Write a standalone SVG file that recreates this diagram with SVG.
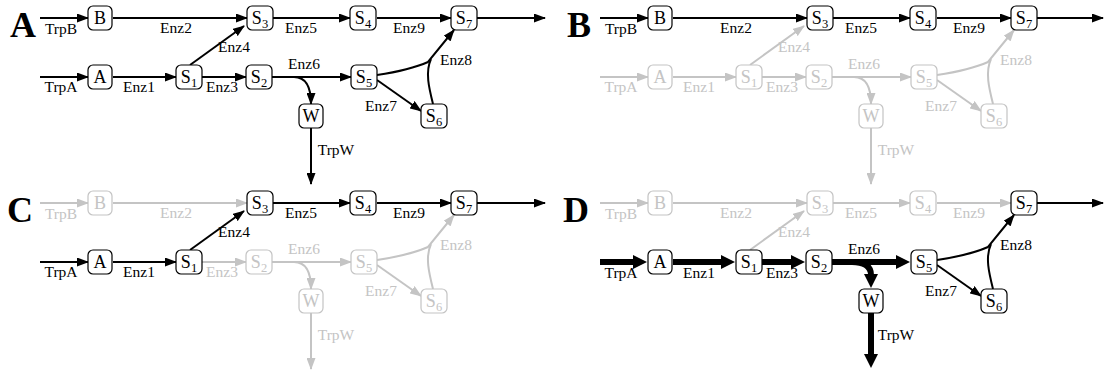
<svg xmlns="http://www.w3.org/2000/svg" width="1104" height="373" viewBox="0 0 1104 373">
<style>
text{font-family:"Liberation Serif","Times New Roman",serif}
.pl{font-size:36px;font-weight:bold;fill:#000}
.nk rect{fill:#fff;stroke:#000;stroke-width:1.2}
.ng rect{fill:#fff;stroke:#c4c4c4;stroke-width:1.2}
.nk text{fill:#000}
.ng text{fill:#c4c4c4}
.nt{font-size:18px;text-anchor:middle}
.sb{font-size:12.5px}
.lb{font-size:15.5px;text-anchor:middle}
.lk{fill:#000}
.lg{fill:#c4c4c4}
.ek{stroke:#000;stroke-width:2;fill:none;marker-end:url(#ak)}
.eg{stroke:#c4c4c4;stroke-width:2;fill:none;marker-end:url(#ag)}
.et{stroke:#000;stroke-width:6;fill:none;marker-end:url(#at)}
.nk2{stroke:#000;stroke-width:2;fill:none}
.ng2{stroke:#c4c4c4;stroke-width:2;fill:none}
</style>
<defs>
<marker id="ak" markerUnits="userSpaceOnUse" markerWidth="12" markerHeight="9" refX="11" refY="4.5" orient="auto"><path d="M0,0 L12,4.5 L0,9 z" fill="#000"/></marker>
<marker id="ag" markerUnits="userSpaceOnUse" markerWidth="12" markerHeight="9" refX="11" refY="4.5" orient="auto"><path d="M0,0 L12,4.5 L0,9 z" fill="#c4c4c4"/></marker>
<marker id="at" markerUnits="userSpaceOnUse" markerWidth="14" markerHeight="14" refX="1" refY="7" orient="auto"><path d="M0,0 L14,7 L0,14 z" fill="#000"/></marker>
</defs>

<text class="pl" x="10" y="37">A</text>
<text class="pl" x="567" y="37">B</text>
<text class="pl" x="7" y="222">C</text>
<text class="pl" x="563" y="222">D</text>

<!-- Panel A -->
<g id="panelA">
<g id="A-connectors">
<path class="ek" d="M40,18 H88"/><text class="lb lk" x="61" y="34">TrpB</text>
<path class="ek" d="M113,18 H247"/><text class="lb lk" x="176" y="33">Enz2</text>
<path class="ek" d="M190,65 L244,26"/><text class="lb lk" x="234" y="52">Enz4</text>
<path class="ek" d="M273,18 H350"/><text class="lb lk" x="301" y="33">Enz5</text>
<path class="ek" d="M377,18 H451"/><text class="lb lk" x="409" y="33">Enz9</text>
<path class="ek" d="M477,18 H545"/>
<path class="ek" d="M40,77 H88"/><text class="lb lk" x="61" y="92">TrpA</text>
<path class="ek" d="M113,77 H176"/><text class="lb lk" x="139" y="92">Enz1</text>
<path class="ek" d="M202,77 H246"/><text class="lb lk" x="222" y="92">Enz3</text>
<path class="ek" d="M272,77 H351"/><text class="lb lk" x="304" y="69">Enz6</text>
<path class="ek" d="M294,77 Q311,77 311,104"/>
<path class="ek" d="M311,128 V184"/><text class="lb lk" x="336" y="155">TrpW</text>
<path class="ek" d="M377,80 L421,111"/><text class="lb lk" x="381" y="111">Enz7</text>
<path class="ek" d="M377,75 Q410,70 428,62 L454,30"/>
<path class="nk2" d="M433,104 C429,88 425,72 431,59"/><text class="lb lk" x="456" y="65">Enz8</text>
</g>
<g id="A-B" class="nk"><rect x="88" y="6" width="24" height="24" rx="5"/><text class="nt" x="100" y="24">B</text></g>
<g id="A-A" class="nk"><rect x="88" y="65" width="24" height="24" rx="5"/><text class="nt" x="100" y="83">A</text></g>
<g id="A-S1" class="nk"><rect x="176" y="65" width="26" height="24" rx="5"/><text class="nt" x="189" y="83">S<tspan class="sb" dy="4">1</tspan></text></g>
<g id="A-S2" class="nk"><rect x="246" y="65" width="26" height="24" rx="5"/><text class="nt" x="259" y="83">S<tspan class="sb" dy="4">2</tspan></text></g>
<g id="A-S3" class="nk"><rect x="247" y="6" width="26" height="24" rx="5"/><text class="nt" x="260" y="24">S<tspan class="sb" dy="4">3</tspan></text></g>
<g id="A-S4" class="nk"><rect x="350" y="6" width="26" height="24" rx="5"/><text class="nt" x="363" y="24">S<tspan class="sb" dy="4">4</tspan></text></g>
<g id="A-S5" class="nk"><rect x="351" y="65" width="26" height="24" rx="5"/><text class="nt" x="364" y="83">S<tspan class="sb" dy="4">5</tspan></text></g>
<g id="A-S6" class="nk"><rect x="421" y="104" width="26" height="24" rx="5"/><text class="nt" x="434" y="122">S<tspan class="sb" dy="4">6</tspan></text></g>
<g id="A-S7" class="nk"><rect x="451" y="6" width="26" height="24" rx="5"/><text class="nt" x="464" y="24">S<tspan class="sb" dy="4">7</tspan></text></g>
<g id="A-W" class="nk"><rect x="299" y="104" width="24" height="24" rx="5"/><text class="nt" x="311" y="122">W</text></g>
</g>

<!-- Panel B -->
<g id="panelB" transform="translate(560,0)">
<g id="B-connectors">
<path class="ek" d="M40,18 H88"/><text class="lb lk" x="61" y="34">TrpB</text>
<path class="ek" d="M113,18 H247"/><text class="lb lk" x="176" y="33">Enz2</text>
<path class="eg" d="M190,65 L244,26"/><text class="lb lg" x="234" y="52">Enz4</text>
<path class="ek" d="M273,18 H350"/><text class="lb lk" x="301" y="33">Enz5</text>
<path class="ek" d="M377,18 H451"/><text class="lb lk" x="409" y="33">Enz9</text>
<path class="ek" d="M477,18 H543"/>
<path class="eg" d="M40,77 H88"/><text class="lb lg" x="61" y="92">TrpA</text>
<path class="eg" d="M113,77 H176"/><text class="lb lg" x="139" y="92">Enz1</text>
<path class="eg" d="M202,77 H246"/><text class="lb lg" x="222" y="92">Enz3</text>
<path class="eg" d="M272,77 H351"/><text class="lb lg" x="304" y="69">Enz6</text>
<path class="eg" d="M294,77 Q311,77 311,104"/>
<path class="eg" d="M311,128 V184"/><text class="lb lg" x="336" y="155">TrpW</text>
<path class="eg" d="M377,80 L421,111"/><text class="lb lg" x="381" y="111">Enz7</text>
<path class="eg" d="M377,75 Q410,70 428,62 L454,30"/>
<path class="ng2" d="M433,104 C429,88 425,72 431,59"/><text class="lb lg" x="456" y="65">Enz8</text>
</g>
<g id="B-B" class="nk"><rect x="88" y="6" width="24" height="24" rx="5"/><text class="nt" x="100" y="24">B</text></g>
<g id="B-A" class="ng"><rect x="88" y="65" width="24" height="24" rx="5"/><text class="nt" x="100" y="83">A</text></g>
<g id="B-S1" class="ng"><rect x="176" y="65" width="26" height="24" rx="5"/><text class="nt" x="189" y="83">S<tspan class="sb" dy="4">1</tspan></text></g>
<g id="B-S2" class="ng"><rect x="246" y="65" width="26" height="24" rx="5"/><text class="nt" x="259" y="83">S<tspan class="sb" dy="4">2</tspan></text></g>
<g id="B-S3" class="nk"><rect x="247" y="6" width="26" height="24" rx="5"/><text class="nt" x="260" y="24">S<tspan class="sb" dy="4">3</tspan></text></g>
<g id="B-S4" class="nk"><rect x="350" y="6" width="26" height="24" rx="5"/><text class="nt" x="363" y="24">S<tspan class="sb" dy="4">4</tspan></text></g>
<g id="B-S5" class="ng"><rect x="351" y="65" width="26" height="24" rx="5"/><text class="nt" x="364" y="83">S<tspan class="sb" dy="4">5</tspan></text></g>
<g id="B-S6" class="ng"><rect x="421" y="104" width="26" height="24" rx="5"/><text class="nt" x="434" y="122">S<tspan class="sb" dy="4">6</tspan></text></g>
<g id="B-S7" class="nk"><rect x="451" y="6" width="26" height="24" rx="5"/><text class="nt" x="464" y="24">S<tspan class="sb" dy="4">7</tspan></text></g>
<g id="B-W" class="ng"><rect x="299" y="104" width="24" height="24" rx="5"/><text class="nt" x="311" y="122">W</text></g>
</g>

<!-- Panel C -->
<g id="panelC" transform="translate(0,185)">
<g id="C-connectors">
<path class="eg" d="M40,18 H88"/><text class="lb lg" x="61" y="34">TrpB</text>
<path class="eg" d="M113,18 H247"/><text class="lb lg" x="176" y="33">Enz2</text>
<path class="ek" d="M190,65 L244,26"/><text class="lb lk" x="234" y="52">Enz4</text>
<path class="ek" d="M273,18 H350"/><text class="lb lk" x="301" y="33">Enz5</text>
<path class="ek" d="M377,18 H451"/><text class="lb lk" x="409" y="33">Enz9</text>
<path class="ek" d="M477,18 H545"/>
<path class="ek" d="M40,77 H88"/><text class="lb lk" x="61" y="92">TrpA</text>
<path class="ek" d="M113,77 H176"/><text class="lb lk" x="139" y="92">Enz1</text>
<path class="eg" d="M202,77 H246"/><text class="lb lg" x="222" y="92">Enz3</text>
<path class="eg" d="M272,77 H351"/><text class="lb lg" x="304" y="69">Enz6</text>
<path class="eg" d="M294,77 Q311,77 311,104"/>
<path class="eg" d="M311,128 V184"/><text class="lb lg" x="336" y="155">TrpW</text>
<path class="eg" d="M377,80 L421,111"/><text class="lb lg" x="381" y="111">Enz7</text>
<path class="eg" d="M377,75 Q410,70 428,62 L454,30"/>
<path class="ng2" d="M433,104 C429,88 425,72 431,59"/><text class="lb lg" x="456" y="65">Enz8</text>
</g>
<g id="C-B" class="ng"><rect x="88" y="6" width="24" height="24" rx="5"/><text class="nt" x="100" y="24">B</text></g>
<g id="C-A" class="nk"><rect x="88" y="65" width="24" height="24" rx="5"/><text class="nt" x="100" y="83">A</text></g>
<g id="C-S1" class="nk"><rect x="176" y="65" width="26" height="24" rx="5"/><text class="nt" x="189" y="83">S<tspan class="sb" dy="4">1</tspan></text></g>
<g id="C-S2" class="ng"><rect x="246" y="65" width="26" height="24" rx="5"/><text class="nt" x="259" y="83">S<tspan class="sb" dy="4">2</tspan></text></g>
<g id="C-S3" class="nk"><rect x="247" y="6" width="26" height="24" rx="5"/><text class="nt" x="260" y="24">S<tspan class="sb" dy="4">3</tspan></text></g>
<g id="C-S4" class="nk"><rect x="350" y="6" width="26" height="24" rx="5"/><text class="nt" x="363" y="24">S<tspan class="sb" dy="4">4</tspan></text></g>
<g id="C-S5" class="ng"><rect x="351" y="65" width="26" height="24" rx="5"/><text class="nt" x="364" y="83">S<tspan class="sb" dy="4">5</tspan></text></g>
<g id="C-S6" class="ng"><rect x="421" y="104" width="26" height="24" rx="5"/><text class="nt" x="434" y="122">S<tspan class="sb" dy="4">6</tspan></text></g>
<g id="C-S7" class="nk"><rect x="451" y="6" width="26" height="24" rx="5"/><text class="nt" x="464" y="24">S<tspan class="sb" dy="4">7</tspan></text></g>
<g id="C-W" class="ng"><rect x="299" y="104" width="24" height="24" rx="5"/><text class="nt" x="311" y="122">W</text></g>
</g>

<!-- Panel D -->
<g id="panelD" transform="translate(560,185)">
<g id="D-connectors">
<path class="eg" d="M40,18 H88"/><text class="lb lg" x="61" y="34">TrpB</text>
<path class="eg" d="M113,18 H247"/><text class="lb lg" x="176" y="33">Enz2</text>
<path class="eg" d="M190,65 L244,26"/><text class="lb lg" x="234" y="52">Enz4</text>
<path class="eg" d="M273,18 H350"/><text class="lb lg" x="301" y="33">Enz5</text>
<path class="eg" d="M377,18 H451"/><text class="lb lg" x="409" y="33">Enz9</text>
<path class="ek" d="M477,18 H543"/>
<path class="et" d="M40,77 H74"/><text class="lb lk" x="61" y="93">TrpA</text>
<path class="et" d="M113,77 H162"/><text class="lb lk" x="139" y="93">Enz1</text>
<path class="et" d="M202,77 H232"/><text class="lb lk" x="222" y="93">Enz3</text>
<path class="et" d="M272,77 H337"/><text class="lb lk" x="304" y="69">Enz6</text>
<path class="et" d="M292,77 Q311,77 311,90"/>
<path class="et" d="M311,128 V170"/><text class="lb lk" x="336" y="155">TrpW</text>
<path class="ek" d="M377,80 L421,111"/><text class="lb lk" x="381" y="111">Enz7</text>
<path class="ek" d="M377,75 Q410,70 428,62 L454,30"/>
<path class="nk2" d="M433,104 C429,88 425,72 431,59"/><text class="lb lk" x="456" y="65">Enz8</text>
</g>
<g id="D-B" class="ng"><rect x="88" y="6" width="24" height="24" rx="5"/><text class="nt" x="100" y="24">B</text></g>
<g id="D-A" class="nk"><rect x="88" y="65" width="24" height="24" rx="5"/><text class="nt" x="100" y="83">A</text></g>
<g id="D-S1" class="nk"><rect x="176" y="65" width="26" height="24" rx="5"/><text class="nt" x="189" y="83">S<tspan class="sb" dy="4">1</tspan></text></g>
<g id="D-S2" class="nk"><rect x="246" y="65" width="26" height="24" rx="5"/><text class="nt" x="259" y="83">S<tspan class="sb" dy="4">2</tspan></text></g>
<g id="D-S3" class="ng"><rect x="247" y="6" width="26" height="24" rx="5"/><text class="nt" x="260" y="24">S<tspan class="sb" dy="4">3</tspan></text></g>
<g id="D-S4" class="ng"><rect x="350" y="6" width="26" height="24" rx="5"/><text class="nt" x="363" y="24">S<tspan class="sb" dy="4">4</tspan></text></g>
<g id="D-S5" class="nk"><rect x="351" y="65" width="26" height="24" rx="5"/><text class="nt" x="364" y="83">S<tspan class="sb" dy="4">5</tspan></text></g>
<g id="D-S6" class="nk"><rect x="421" y="104" width="26" height="24" rx="5"/><text class="nt" x="434" y="122">S<tspan class="sb" dy="4">6</tspan></text></g>
<g id="D-S7" class="nk"><rect x="451" y="6" width="26" height="24" rx="5"/><text class="nt" x="464" y="24">S<tspan class="sb" dy="4">7</tspan></text></g>
<g id="D-W" class="nk"><rect x="299" y="104" width="24" height="24" rx="5"/><text class="nt" x="311" y="122">W</text></g>
</g>
</svg>
